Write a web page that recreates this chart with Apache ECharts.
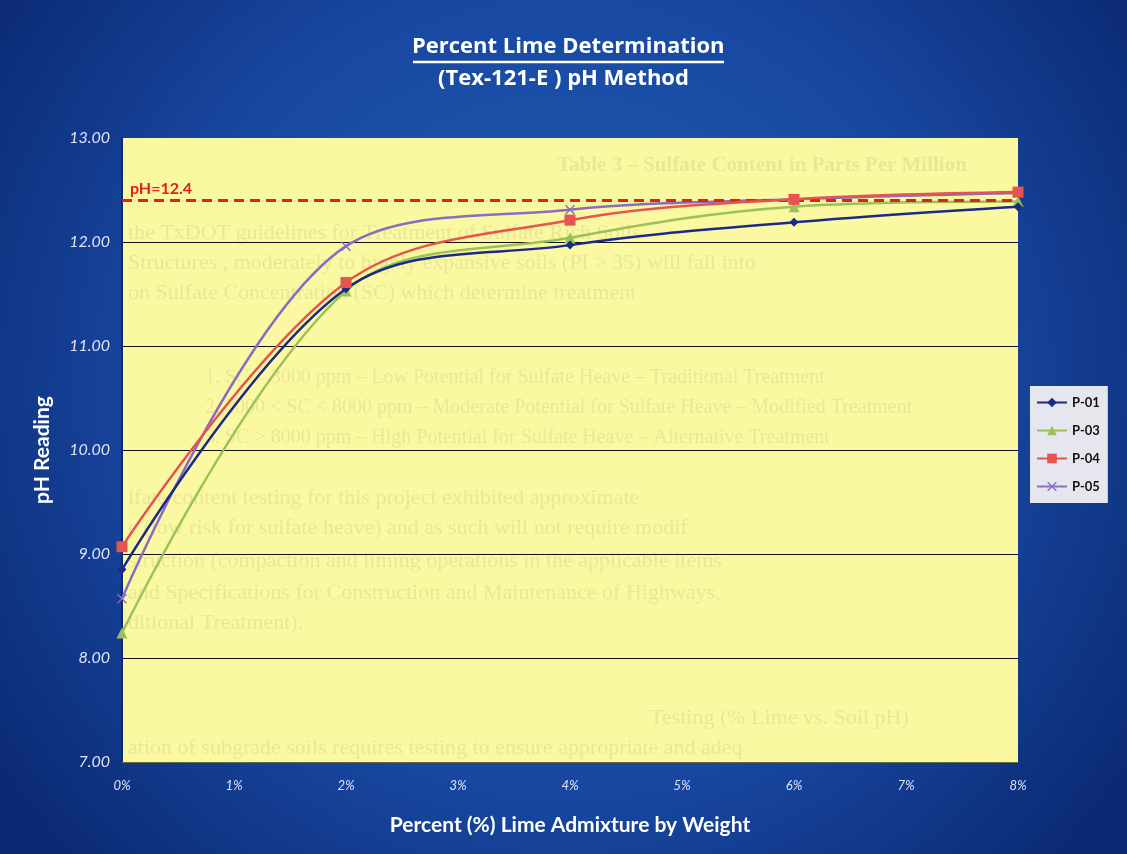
<!DOCTYPE html>
<html>
<head>
<meta charset="utf-8">
<script src="https://cdn.jsdelivr.net/npm/echarts@6/dist/echarts.min.js"></script>
<style>
html,body{margin:0;padding:0;background:#0e2f80;}
#chart{width:1127px;height:854px;}
</style>
</head>
<body>
<div id="chart"></div>
<script>
// ---- data ----
const limePercent = [0, 2, 4, 6, 8];
const p01 = [8.85, 11.55, 11.97, 12.19, 12.34];
const p03 = [8.24, 11.53, 12.04, 12.34, 12.39];
const p04 = [9.07, 11.61, 12.21, 12.41, 12.48];
const p05 = [8.57, 11.96, 12.31, 12.41, 12.47];
const seriesNames = ['P-01', 'P-03', 'P-04', 'P-05'];
const targetPH = 12.4;
const targetLabel = 'pH=12.4';
const yTicks = [7, 8, 9, 10, 11, 12, 13];
const xTicks = [0, 1, 2, 3, 4, 5, 6, 7, 8];
const titleText = 'Percent Lime Determination';
const subtitleText = '(Tex-121-E ) pH Method';
const xTitle = 'Percent (%) Lime Admixture by Weight';
const yTitle = 'pH Reading';
const ghostLines = [
  'Table 3 – Sulfate Content in Parts Per Million',
  'the TxDOT guidelines for Treatment of Sulfate Rich Soils',
  'Structures , moderately to highly expansive soils (PI > 35) will fall into',
  'on Sulfate Concentration (SC) which determine treatment',
  '1. SC < 3000 ppm – Low Potential for Sulfate Heave – Traditional Treatment',
  '2. 3000 < SC < 8000 ppm – Moderate Potential for Sulfate Heave – Modified Treatment',
  '3. SC > 8000 ppm – High Potential for Sulfate Heave – Alternative Treatment',
  'lfate content testing for this project exhibited approximate',
  'e (low risk for sulfate heave) and as such will not require modif',
  'struction (compaction and liming operations in the applicable items',
  'and Specifications for Construction and Maintenance of Highways,',
  'ditional Treatment).',
  'Testing (% Lime vs. Soil pH)',
  'ation of subgrade soils requires testing to ensure appropriate and adeq'
];

const colors = ['#1a2a86', '#9cc15a', '#e4554f', '#8b6cc2'];
const xSym = 'path://M0,1 L1,0 L5,4 L9,0 L10,1 L6,5 L10,9 L9,10 L5,6 L1,10 L0,9 L4,5 Z';

function pairs(arr) { return limePercent.map((x, i) => [x, arr[i]]); }

const ghostPos = [
  [557, 168, 21, 'bold'], [128, 235, 22, 'normal'], [128, 265, 22, 'normal'], [128, 295, 22, 'normal'],
  [205, 380, 20, 'normal'], [205, 410, 20, 'normal'], [205, 440, 20, 'normal'],
  [128, 500, 22, 'normal'], [128, 530, 22, 'normal'], [128, 563, 22, 'normal'], [128, 595, 22, 'normal'],
  [128, 625, 22, 'normal'], [650, 720, 22, 'normal'], [128, 750, 22, 'normal']
];
const ghostGraphics = ghostLines.map((t, i) => ({
  type: 'text', left: ghostPos[i][0], top: ghostPos[i][1] - ghostPos[i][2] * 0.6, z: 1, silent: true,
  style: {
    text: t, fill: 'rgba(80,80,60,0.10)', font: ghostPos[i][3] + ' ' + ghostPos[i][2] + 'px "Liberation Serif", serif',
    width: 1014 - ghostPos[i][0], overflow: 'truncate', ellipsis: ''
  }
}));

const chart = echarts.init(document.getElementById('chart'));
const option = {
  backgroundColor: {
    type: 'radial', x: 0.5, y: 0.45, r: 0.8,
    colorStops: [{ offset: 0, color: '#2160b8' }, { offset: 0.6, color: '#1847a0' }, { offset: 1, color: '#0b2a74' }]
  },
  animation: false,
  grid: { left: 122, right: 109, top: 138, bottom: 92, show: true, backgroundColor: '#fbf8a2', borderWidth: 0 },
  legend: {
    orient: 'vertical', left: 1030, top: 386, data: seriesNames,
    backgroundColor: '#e6e6ee', padding: [10, 8, 10, 6], itemGap: 15, itemWidth: 30, itemHeight: 12,
    textStyle: { color: '#111', fontWeight: 'bold', fontSize: 13, fontFamily: 'Lato' }
  },
  xAxis: {
    type: 'value', min: 0, max: 8, interval: 1,
    name: xTitle, nameLocation: 'middle', nameGap: 53,
    nameTextStyle: { color: '#fff', fontSize: 21, fontWeight: 'bold', fontFamily: 'Lato' },
    axisLine: { show: true, lineStyle: { color: '#6a6a40', width: 1 } },
    axisTick: { show: false }, splitLine: { show: false },
    axisLabel: { formatter: v => v + '%', color: '#dfe3ff', fontStyle: 'italic', fontSize: 13, margin: 17, fontFamily: 'Lato' }
  },
  yAxis: {
    type: 'value', min: 7, max: 13, interval: 1,
    name: yTitle, nameLocation: 'middle', nameGap: 69, nameRotate: 90,
    nameTextStyle: { color: '#fff', fontSize: 21, fontWeight: 'bold', fontFamily: 'Lato' },
    axisLine: { show: true, lineStyle: { color: '#0d2a7a', width: 2 } },
    axisTick: { show: false },
    splitLine: { show: true, lineStyle: { color: ['rgba(0,0,0,0)', '#111', '#111', '#111', '#111', '#111', 'rgba(0,0,0,0)'], width: 1 } },
    axisLabel: { formatter: v => v.toFixed(2), color: '#dfe3ff', fontStyle: 'italic', fontSize: 16, margin: 12, fontFamily: 'Lato' }
  },
  graphic: [
    ...ghostGraphics,
    { type: 'text', left: 412, top: 36, z: 10, style: { text: titleText, fill: '#fff', font: 'bold 22px "Open Sans"' } },
    { type: 'line', z: 10, shape: { x1: 413, y1: 62, x2: 724, y2: 62 }, style: { stroke: '#fff', lineWidth: 2.5 } },
    { type: 'text', left: 'center', top: 68, z: 10, style: { text: subtitleText, fill: '#fff', font: 'bold 22px "Open Sans"' } }
  ],
  series: [
    {
      name: seriesNames[0], type: 'line', data: pairs(p01), smooth: 0.35, symbol: 'diamond', symbolSize: 9,
      lineStyle: { width: 2.5, color: colors[0] }, itemStyle: { color: colors[0] }, z: 5
    },
    {
      name: seriesNames[1], type: 'line', data: pairs(p03), smooth: 0.35, symbol: 'triangle', symbolSize: 11,
      lineStyle: { width: 2.5, color: colors[1] }, itemStyle: { color: colors[1] }, z: 4
    },
    {
      name: seriesNames[2], type: 'line', data: pairs(p04), smooth: 0.35, symbol: 'rect', symbolSize: 11,
      lineStyle: { width: 2.5, color: colors[2] }, itemStyle: { color: colors[2] }, z: 6,
      markLine: {
        silent: true, symbol: 'none',
        lineStyle: { type: [10, 6], color: '#e2201c', width: 3 },
        label: { show: true, position: 'insideStartTop', formatter: targetLabel, color: '#e2201c', fontWeight: 'bold', fontSize: 16, fontFamily: 'Lato', distance: [8, 4] },
        data: [{ yAxis: targetPH }]
      }
    },
    {
      name: seriesNames[3], type: 'line', data: pairs(p05), smooth: 0.35, symbol: xSym, symbolSize: 10,
      lineStyle: { width: 2.5, color: colors[3] }, itemStyle: { color: colors[3] }, z: 3
    }
  ]
};
chart.setOption(option);
</script>
</body>
</html>
